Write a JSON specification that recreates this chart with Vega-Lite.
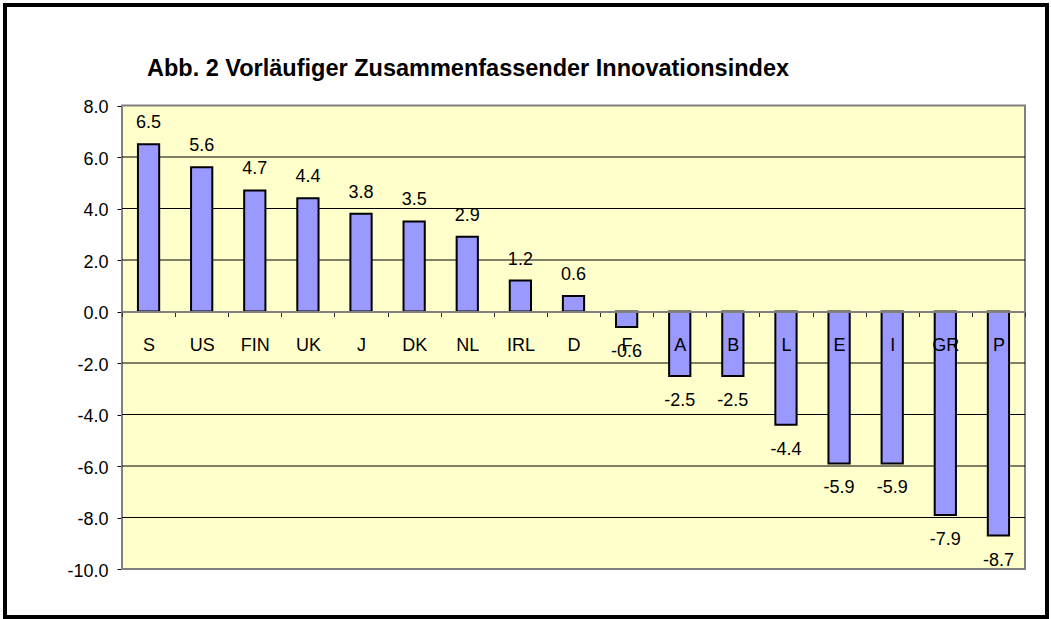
{
  "$schema": "https://vega.github.io/schema/vega-lite/v6.json",
  "width": 1042,
  "height": 612,
  "autosize": {"type": "none"},
  "padding": {"left": 5, "top": 5, "right": 4, "bottom": 2},
  "background": "white",
  "config": {
    "view": {"stroke": "black", "strokeWidth": 4, "fill": "white"},
    "font": "Liberation Sans",
    "locale": {"number": {"decimal": ".", "thousands": ",", "grouping": [3], "currency": ["$", ""], "minus": "-"}},
    "axisY": {
      "grid": false,
      "domainColor": "black",
      "domainWidth": 2,
      "tickColor": "black",
      "tickSize": 5,
      "tickWidth": 1,
      "labelFont": "Liberation Sans",
      "labelFontSize": 18,
      "labelColor": "black",
      "labelPadding": 9,
      "labelOffset": 2,
      "labelBound": false,
      "labelFlush": false,
      "labelOverlap": false,
      "zindex": 2
    }
  },
  "title": {
    "text": "Abb. 2 Vorläufiger Zusammenfassender Innovationsindex",
    "font": "Liberation Sans",
    "fontSize": 23.5,
    "fontWeight": "bold",
    "color": "black",
    "anchor": "start",
    "frame": "group",
    "offset": -94,
    "baseline": "alphabetic",
    "dx": 142
  },
  "data": {
    "values": [
      {"land": "S", "wert": 6.5},
      {"land": "US", "wert": 5.6},
      {"land": "FIN", "wert": 4.7},
      {"land": "UK", "wert": 4.4},
      {"land": "J", "wert": 3.8},
      {"land": "DK", "wert": 3.5},
      {"land": "NL", "wert": 2.9},
      {"land": "IRL", "wert": 1.2},
      {"land": "D", "wert": 0.6},
      {"land": "F", "wert": -0.6},
      {"land": "A", "wert": -2.5},
      {"land": "B", "wert": -2.5},
      {"land": "L", "wert": -4.4},
      {"land": "E", "wert": -5.9},
      {"land": "I", "wert": -5.9},
      {"land": "GR", "wert": -7.9},
      {"land": "P", "wert": -8.7}
    ]
  },
  "layer": [
    {
      "data": {"values": [{}]},
      "mark": {"type": "rect", "fill": "#FFFFCC", "stroke": "#808080", "strokeWidth": 2},
      "encoding": {
        "x": {"datum": 0, "type": "quantitative", "scale": {"domain": [0, 1], "range": [117, 1020]}, "axis": null},
        "x2": {"datum": 1},
        "y": {"datum": -10, "type": "quantitative", "scale": {"domain": [-10, 8], "range": [564, 100.5], "nice": false, "zero": false},
              "axis": {"title": null, "values": [-10, -8, -6, -4, -2, 0, 2, 4, 6, 8], "format": ".1f", "offset": -117}},
        "y2": {"datum": 8}
      }
    },
    {
      "data": {"values": [{"g": -8}, {"g": -6}, {"g": -4}, {"g": -2}, {"g": 2}, {"g": 4}, {"g": 6}]},
      "mark": {"type": "rule", "color": "black", "strokeWidth": 1},
      "encoding": {
        "x": {"datum": 0, "type": "quantitative", "scale": {"domain": [0, 1], "range": [117, 1020]}, "axis": null},
        "x2": {"datum": 1},
        "y": {"field": "g", "type": "quantitative", "scale": {"domain": [-10, 8], "range": [564, 100.5], "nice": false, "zero": false},
              "axis": {"title": null, "values": [-10, -8, -6, -4, -2, 0, 2, 4, 6, 8], "format": ".1f", "offset": -117}}
      }
    },
    {
      "mark": {"type": "bar", "width": {"band": 0.4}, "fill": "#9999FF", "stroke": "black", "strokeWidth": 2},
      "encoding": {
        "x": {
          "field": "land", "type": "nominal",
          "scale": {"domain": ["S","US","FIN","UK","J","DK","NL","IRL","D","F","A","B","L","E","I","GR","P"], "range": [117, 1020], "paddingInner": 0, "paddingOuter": 0},
          "axis": {
            "title": null,
            "orient": "bottom",
            "offset": -305.5,
            "domainColor": "#808080",
            "domainWidth": 2,
            "tickColor": "#303030",
            "tickSize": 5,
            "tickWidth": 1,
            "tickBand": "extent",
            "labelFont": "Liberation Sans",
            "labelFontSize": 18,
            "labelColor": "black",
            "labelPadding": 20,
            "labelAngle": 0,
            "labelOverlap": false,
            "labelBound": false,
            "labelFlush": false,
            "zindex": 2
          }
        },
        "y": {"field": "wert", "type": "quantitative", "scale": {"domain": [-10, 8], "range": [564, 100.5], "nice": false, "zero": false},
              "axis": {"title": null, "values": [-10, -8, -6, -4, -2, 0, 2, 4, 6, 8], "format": ".1f", "offset": -117}},
        "y2": {"datum": 0}
      }
    },
    {
      "transform": [{"filter": "datum.wert >= 0"}],
      "mark": {"type": "text", "baseline": "alphabetic", "dy": -16, "fontSize": 18, "font": "Liberation Sans", "color": "black"},
      "encoding": {
        "x": {
          "field": "land", "type": "nominal",
          "scale": {"domain": ["S","US","FIN","UK","J","DK","NL","IRL","D","F","A","B","L","E","I","GR","P"], "range": [117, 1020], "paddingInner": 0, "paddingOuter": 0},
          "axis": null
        },
        "y": {"field": "wert", "type": "quantitative", "scale": {"domain": [-10, 8], "range": [564, 100.5], "nice": false, "zero": false},
              "axis": {"title": null, "values": [-10, -8, -6, -4, -2, 0, 2, 4, 6, 8], "format": ".1f", "offset": -117}},
        "text": {"field": "wert", "type": "quantitative", "format": ".1f"}
      }
    },
    {
      "transform": [{"filter": "datum.wert < 0"}],
      "mark": {"type": "text", "baseline": "middle", "dy": 25, "fontSize": 18, "font": "Liberation Sans", "color": "black"},
      "encoding": {
        "x": {
          "field": "land", "type": "nominal",
          "scale": {"domain": ["S","US","FIN","UK","J","DK","NL","IRL","D","F","A","B","L","E","I","GR","P"], "range": [117, 1020], "paddingInner": 0, "paddingOuter": 0},
          "axis": null
        },
        "y": {"field": "wert", "type": "quantitative", "scale": {"domain": [-10, 8], "range": [564, 100.5], "nice": false, "zero": false},
              "axis": {"title": null, "values": [-10, -8, -6, -4, -2, 0, 2, 4, 6, 8], "format": ".1f", "offset": -117}},
        "text": {"field": "wert", "type": "quantitative", "format": ".1f"}
      }
    }
  ],
  "resolve": {"scale": {"x": "independent"}, "axis": {"x": "independent"}}
}
